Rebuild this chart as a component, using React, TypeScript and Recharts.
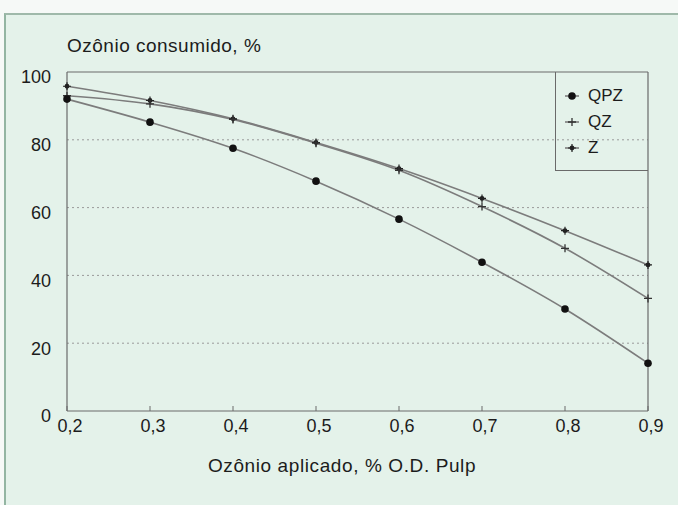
import { CartesianGrid, Line, LineChart, ReferenceLine, XAxis, YAxis } from 'recharts';

const doses = [0.2, 0.3, 0.4, 0.5, 0.6, 0.7, 0.8, 0.9];
const qpz = [92, 85.2, 77.5, 67.8, 56.6, 43.9, 30.1, 14.1];
const qz = [93, 90.6, 86, 79, 71, 60.3, 48, 33.2];
const z = [95.8, 91.6, 86.2, 79.2, 71.5, 62.7, 53.2, 43.1];
const yTicks = [0, 20, 40, 60, 80, 100];

const data = doses.map((x, i) => ({ x, qpz: qpz[i], qz: qz[i], z: z[i] }));

const FONT = '"Liberation Sans", Arial, Helvetica, sans-serif';
const INK = '#1c1c1c';
const LINE = '#7c7c7c';
const AXIS = '#6a6a6a';

function Circle({ cx, cy, index }: any) {
  return <circle key={`c${index}`} cx={cx} cy={cy} r={3.8} fill="#111" />;
}

function Plus({ cx, cy, index }: any) {
  return (
    <path
      key={`p${index}`}
      d={`M${cx - 4},${cy}H${cx + 4}M${cx},${cy - 4}V${cy + 4}`}
      stroke="#333"
      strokeWidth={1.3}
    />
  );
}

function Star({ cx, cy, index }: any) {
  return (
    <g key={`s${index}`}>
      <circle cx={cx} cy={cy} r={2.4} fill="#222" />
      <path d={`M${cx - 4},${cy}H${cx + 4}M${cx},${cy - 4}V${cy + 4}`} stroke="#222" strokeWidth={1.2} />
    </g>
  );
}

function XTick({ x, y, payload }: any) {
  return (
    <g>
      <line x1={x} x2={x} y1={y} y2={y - 5} stroke={AXIS} strokeWidth={1} />
      <text x={x + 3} y={y + 15} dy="0.36em" textAnchor="middle" fontSize={18} fill={INK} fontFamily={FONT}>
        {payload.value.toFixed(1).replace('.', ',')}
      </text>
    </g>
  );
}

function YTick({ x, y, payload }: any) {
  return (
    <text x={x - 3} y={y + 5} dy="0.36em" textAnchor="end" fontSize={18} fill={INK} fontFamily={FONT}>
      {payload.value}
    </text>
  );
}

const legendItems = [
  { name: 'QPZ', Mark: Circle },
  { name: 'QZ', Mark: Plus },
  { name: 'Z', Mark: Star },
];

export default function App() {
  return (
    <div
      style={{
        position: 'absolute',
        left: 0,
        top: 0,
        width: 678,
        height: 505,
        background: '#f6f9f7',
        fontFamily: FONT,
        overflow: 'hidden',
      }}
    >
      <div
        style={{
          position: 'absolute',
          left: 4,
          top: 13,
          width: 680,
          height: 500,
          background: '#e4f2ea',
          borderTop: '2px solid #9fb9aa',
          borderLeft: '2px solid #93b5a2',
        }}
      />
      <div style={{ position: 'absolute', left: 0, top: 0 }}>
        <LineChart width={678} height={505} data={data} margin={{ top: 72, right: 30, bottom: 64, left: 27 }}>
          <CartesianGrid vertical={false} horizontalValues={[20, 40, 60, 80]} stroke="#9a9a9a" strokeDasharray="2 3" />
          <XAxis
            dataKey="x"
            type="number"
            domain={[0.2, 0.9]}
            ticks={doses}
            height={30}
            tickSize={0}
            tickMargin={0}
            tick={<XTick />}
            axisLine={{ stroke: AXIS, strokeWidth: 1.2 }}
            interval={0}
          />
          <YAxis
            type="number"
            domain={[0, 100]}
            ticks={yTicks}
            width={40}
            tickSize={0}
            tickMargin={13}
            tickLine={false}
            tick={<YTick />}
            axisLine={{ stroke: AXIS, strokeWidth: 1.2 }}
            interval={0}
          />
          <ReferenceLine y={100} stroke={AXIS} strokeWidth={1.2} />
          <ReferenceLine x={0.9} stroke={AXIS} strokeWidth={1.2} />
          <Line type="monotone" dataKey="z" stroke={LINE} strokeWidth={1.6} dot={Star} activeDot={false} isAnimationActive={false} />
          <Line type="monotone" dataKey="qz" stroke={LINE} strokeWidth={1.6} dot={Plus} activeDot={false} isAnimationActive={false} />
          <Line type="monotone" dataKey="qpz" stroke={LINE} strokeWidth={1.6} dot={Circle} activeDot={false} isAnimationActive={false} />
        </LineChart>
      </div>
      <div
        style={{
          position: 'absolute',
          left: 67,
          top: 36,
          fontSize: 19,
          letterSpacing: 0.5,
          lineHeight: '20px',
          color: INK,
          whiteSpace: 'nowrap',
        }}
      >
        Ozônio consumido, %
      </div>
      <div
        style={{
          position: 'absolute',
          left: 142,
          width: 400,
          textAlign: 'center',
          top: 456,
          fontSize: 19,
          letterSpacing: 0.6,
          lineHeight: '20px',
          color: INK,
          whiteSpace: 'nowrap',
        }}
      >
        Ozônio aplicado, % O.D. Pulp
      </div>
      <div
        style={{
          position: 'absolute',
          left: 555,
          top: 72,
          width: 93,
          height: 99,
          boxSizing: 'border-box',
          border: `1.2px solid ${AXIS}`,
          borderTop: 'none',
          borderRight: 'none',
          paddingTop: 11,
        }}
      >
        {legendItems.map(({ name, Mark }) => (
          <div key={name} style={{ display: 'flex', alignItems: 'center', height: 26 }}>
            <svg width={30} height={26} style={{ display: 'block' }}>
              <line x1={9} x2={23} y1={13} y2={13} stroke={LINE} strokeWidth={1.6} />
              <Mark cx={16} cy={13} index={0} />
            </svg>
            <span style={{ fontSize: 17, color: INK, marginLeft: 2 }}>{name}</span>
          </div>
        ))}
      </div>
    </div>
  );
}
